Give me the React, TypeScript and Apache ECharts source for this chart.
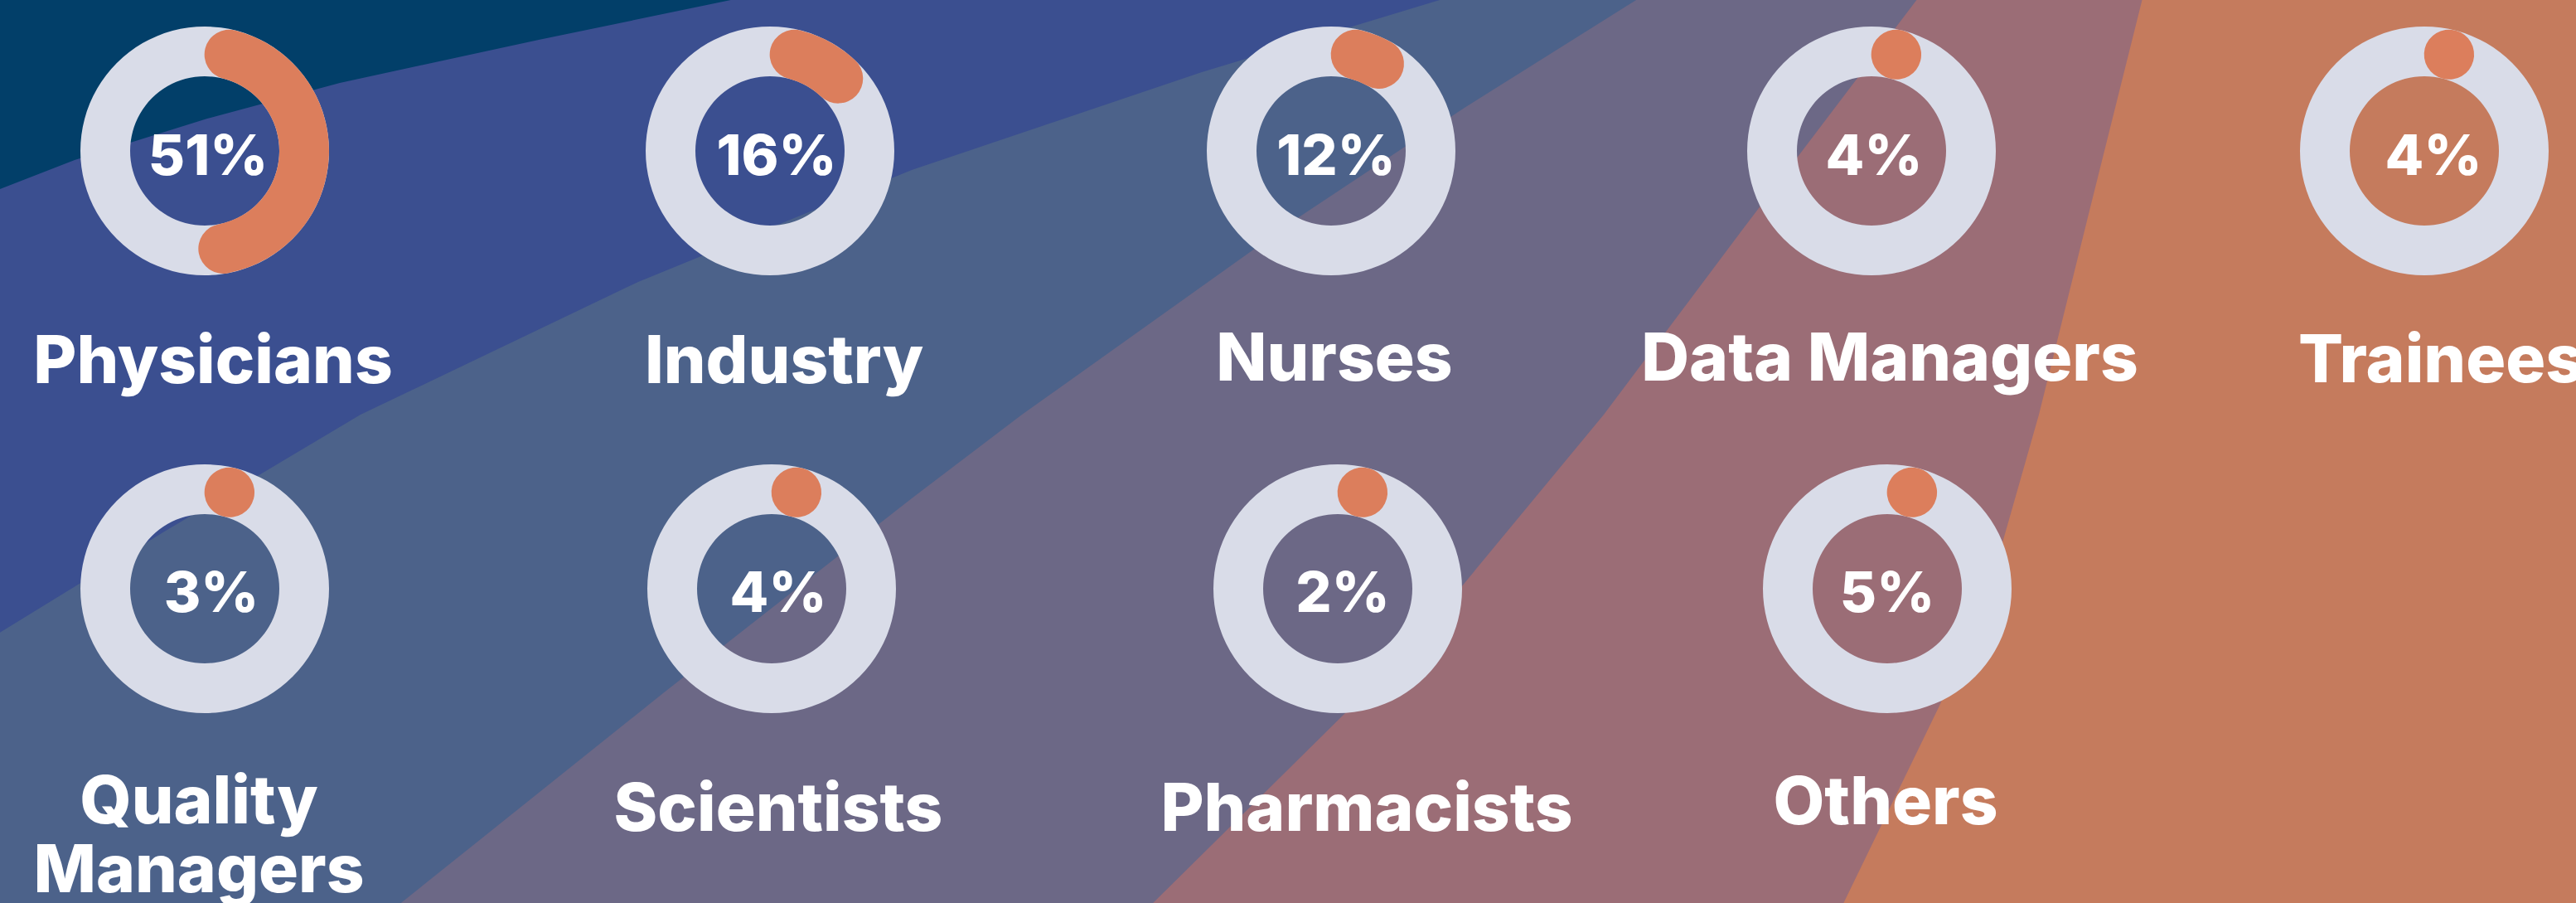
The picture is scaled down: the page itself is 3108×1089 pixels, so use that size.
import React, { useEffect, useRef } from "react";
import * as echarts from "echarts";

// ---------- data ----------
const categories = [
  "Physicians",
  "Industry",
  "Nurses",
  "Data Managers",
  "Trainees",
  "Quality\nManagers",
  "Scientists",
  "Pharmacists",
  "Others",
];
const values = [51, 16, 12, 4, 4, 3, 4, 2, 5];

// ---------- layout (positions only) ----------
const W = 3108;
const H = 1089;
const ringCenters = [
  [247, 182], [929, 182], [1606, 182], [2258, 182], [2925, 182],
  [247, 710], [931, 710], [1614, 710], [2277, 710],
];
const valueLabelPos = [
  [251, 186], [937, 186], [1612, 186], [2261, 186], [2936, 186],
  [255, 713], [939, 713], [1620, 713], [2277, 713],
];
const nameLabelPos = [
  [257, 432], [946, 432], [1610, 429], [2280, 429], [2945, 431],
  [240, 1005], [939, 972], [1649, 972], [2275, 964],
];
const R_IN = 90;
const R_OUT = 150;
// round cap angular size (cap radius / centre radius), expressed in % of circle
const CAP_DEG = ((R_OUT - R_IN) / 2 / ((R_IN + R_OUT) / 2)) * (180 / Math.PI);
const CAP_PCT = CAP_DEG / 3.6;

// background band boundaries (left part of each is filled)
const bands = [
  { color: "#9B6D76", pts: [[2219, 1100], [2341, 849], [2415, 658], [2460, 500], [2522, 250], [2587, -10]] },
  { color: "#6C6886", pts: [[1380, 1100], [1623, 860], [1763, 708], [1935, 500], [2100, 280], [2320, -10]] },
  { color: "#4C628A", pts: [[470, 1100], [800, 836], [1100, 601], [1233, 500], [1567, 262], [1695, 177], [1770, 128], [1990, -10]] },
  { color: "#3B4F90", pts: [[-10, 769], [200, 640], [435, 500], [770, 340], [1100, 205], [1450, 87], [1770, -10]] },
  { color: "#023F69", pts: [[-10, 232], [90, 193], [250, 143], [410, 100], [650, 48], [930, -10]] },
];

const RING = "#D9DCE8";
const ARC = "#DC7E5C";
const FONT = "Inter, 'Open Sans', sans-serif";

export default function App() {
  const ref = useRef<HTMLDivElement>(null);
  useEffect(() => {
    if (!ref.current) return;
    const chart = echarts.init(ref.current, null, { renderer: "svg" });

    const graphic: any[] = [];
    bands.forEach((b, i) => {
      graphic.push({
        type: "polygon",
        z: i,
        silent: true,
        shape: { points: [...b.pts, [-10, -10], [-10, 1100]] },
        style: { fill: b.color },
      });
    });
    categories.forEach((c, i) => {
      graphic.push({
        type: "text",
        z: 50,
        x: valueLabelPos[i][0],
        y: valueLabelPos[i][1],
        style: {
          text: values[i] + "%",
          fill: "#ffffff",
          fontFamily: FONT,
          fontWeight: 800,
          fontSize: 68,
          align: "center",
          verticalAlign: "middle",
        },
      });
      graphic.push({
        type: "text",
        z: 50,
        x: nameLabelPos[i][0],
        y: nameLabelPos[i][1],
        style: {
          text: c,
          fill: "#ffffff",
          fontFamily: FONT,
          fontWeight: 800,
          fontSize: 80,
          lineHeight: 83,
          align: "center",
          verticalAlign: "middle",
        },
      });
    });

    const option: any = {
      animation: false,
      backgroundColor: "#C57B5D",
      polar: ringCenters.map((c) => ({ center: c, radius: [R_IN, R_OUT] })),
      angleAxis: ringCenters.map((_, i) => ({
        polarIndex: i,
        type: "value",
        min: 0,
        max: 100,
        startAngle: 90 - CAP_DEG,
        clockwise: true,
        show: false,
      })),
      radiusAxis: ringCenters.map((_, i) => ({
        polarIndex: i,
        type: "category",
        data: [categories[i]],
        show: false,
      })),
      series: values.map((v, i) => ({
        type: "bar",
        name: categories[i],
        coordinateSystem: "polar",
        polarIndex: i,
        // total drawn span (arc + both round caps) equals the value's share of the circle
        data: [Math.max(v - 2 * CAP_PCT, 0.05)],
        roundCap: true,
        barWidth: "100%",
        showBackground: true,
        backgroundStyle: { color: RING },
        itemStyle: { color: ARC },
        silent: true,
        z: 10,
      })),
      graphic,
    };
    chart.setOption(option);
    return () => chart.dispose();
  }, []);
  return (
    <div
      ref={ref}
      style={{ position: "absolute", left: 0, top: 0, width: W, height: H }}
    />
  );
}
